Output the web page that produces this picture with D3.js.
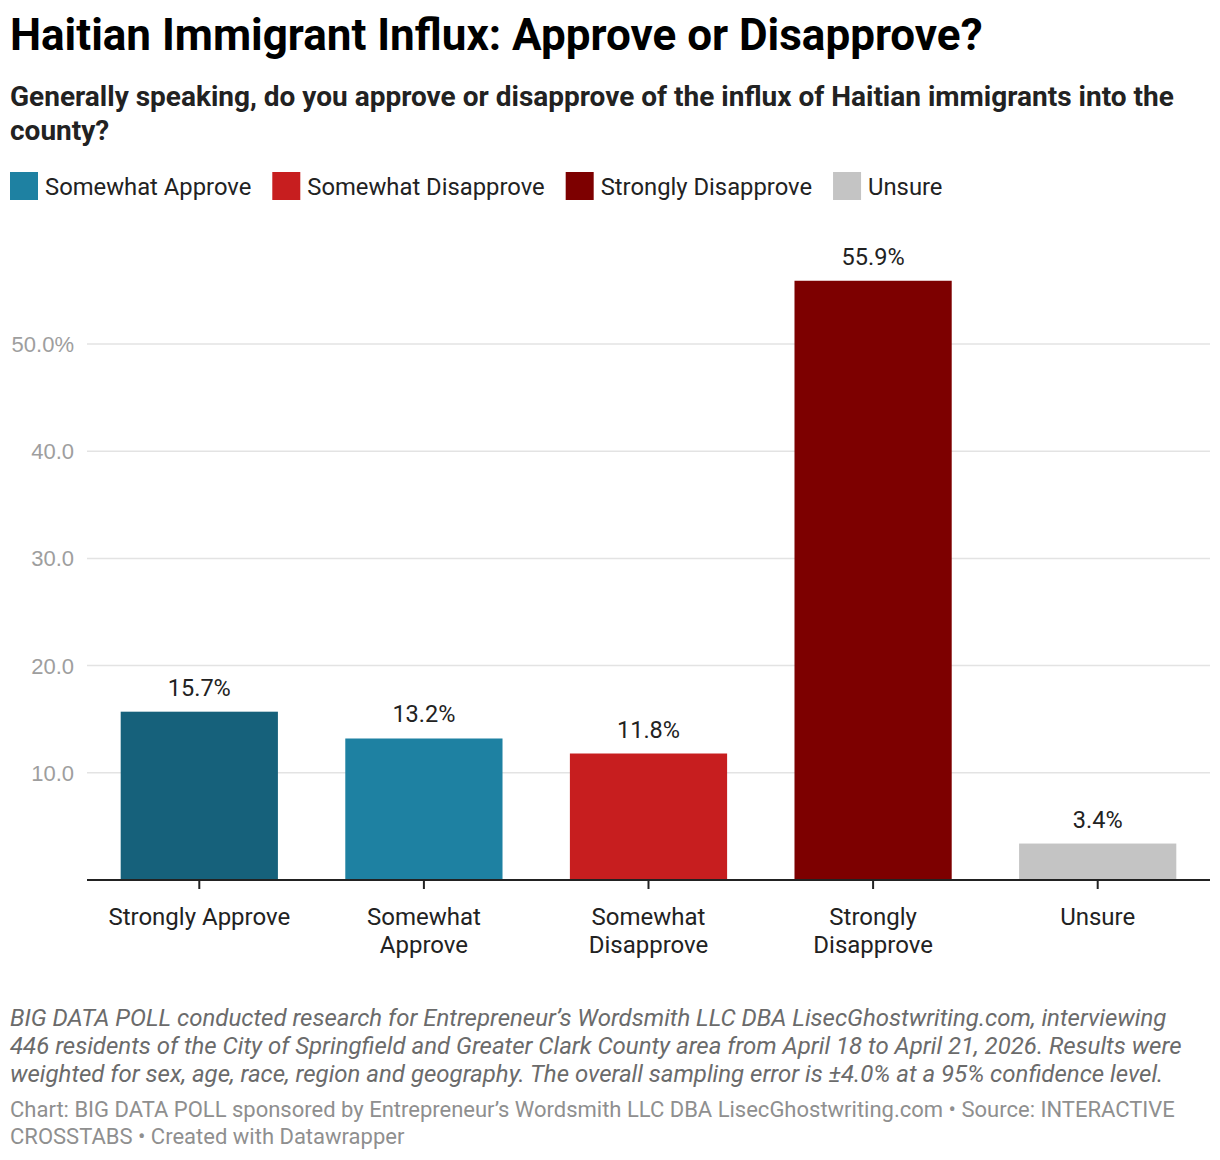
<!DOCTYPE html>
<html>
<head>
<meta charset="utf-8">
<script src="https://cdn.jsdelivr.net/npm/d3@7"></script>
<style>
body { margin:0; background:#fff; font-family:Roboto, sans-serif; }
</style>
</head>
<body>
<script>
var categories = ['Strongly Approve', 'Somewhat Approve', 'Somewhat Disapprove', 'Strongly Disapprove', 'Unsure'];
var values = [15.7, 13.2, 11.8, 55.9, 3.4];
var colors = ['#16617b', '#1e81a2', '#c71e1f', '#7d0000', '#c4c4c4'];
var legendItems = ['Somewhat Approve', 'Somewhat Disapprove', 'Strongly Disapprove', 'Unsure'];
var legendColors = ['#1e81a2', '#c71e1f', '#7d0000', '#c4c4c4'];
var yTicks = [10, 20, 30, 40, 50];
var xLabels = [['Strongly Approve'], ['Somewhat', 'Approve'], ['Somewhat', 'Disapprove'], ['Strongly', 'Disapprove'], ['Unsure']];

var W = 1220, H = 1160;
var svg = d3.select('body').append('svg').attr('width', W).attr('height', H);

// header
svg.append('text').attr('x', 10).attr('y', 50)
  .style('font-size', '44px').style('font-weight', 700).attr('fill', '#000')
  .text('Haitian Immigrant Influx: Approve or Disapprove?');
svg.append('text').attr('x', 10).attr('y', 106)
  .style('font-size', '28px').style('font-weight', 700).attr('fill', '#222')
  .text('Generally speaking, do you approve or disapprove of the influx of Haitian immigrants into the');
svg.append('text').attr('x', 10).attr('y', 140)
  .style('font-size', '28px').style('font-weight', 700).attr('fill', '#222')
  .text('county?');

// legend
var lg = svg.append('g');
var lx = 10;
legendItems.forEach(function(d, i) {
  lg.append('rect').attr('x', lx).attr('y', 172).attr('width', 28).attr('height', 28).attr('fill', legendColors[i]);
  var t = lg.append('text').attr('x', lx + 35).attr('y', 195)
    .style('font-size', '23.8px').attr('fill', '#222').text(d);
  lx += 35 + t.node().getComputedTextLength() + 21;
});

// chart
var x = d3.scaleBand().domain(categories).range([87, 1210]).paddingInner(0.3).paddingOuter(0.15);
var y = d3.scaleLinear().domain([0, 50]).range([880, 344]);

var grid = svg.append('g');
grid.selectAll('line').data(yTicks).enter().append('line')
  .attr('x1', 87).attr('x2', 1210)
  .attr('y1', function(d) { return y(d); }).attr('y2', function(d) { return y(d); })
  .attr('stroke', '#e3e3e3').attr('stroke-width', 1.5);
grid.selectAll('text').data(yTicks).enter().append('text')
  .attr('x', 74).attr('y', function(d) { return y(d) + 8; })
  .attr('text-anchor', 'end')
  .style('font-family', '"Liberation Sans", Arial, sans-serif').style('font-size', '22px')
  .attr('fill', '#9e9e9e')
  .text(function(d) { return d === 50 ? d.toFixed(1) + '%' : d.toFixed(1); });

svg.append('g').selectAll('rect').data(categories).enter().append('rect')
  .attr('x', function(d) { return x(d); })
  .attr('width', x.bandwidth())
  .attr('y', function(d, i) { return y(values[i]); })
  .attr('height', function(d, i) { return y(0) - y(values[i]); })
  .attr('fill', function(d, i) { return colors[i]; });

svg.append('g').selectAll('text').data(categories).enter().append('text')
  .attr('x', function(d) { return x(d) + x.bandwidth() / 2; })
  .attr('y', function(d, i) { return y(values[i]) - 16; })
  .attr('text-anchor', 'middle')
  .style('font-size', '23.5px').attr('fill', '#222')
  .text(function(d, i) { return values[i].toFixed(1) + '%'; });

// x axis
var xAxis = svg.append('g').attr('transform', 'translate(0,' + y(0) + ')')
  .call(d3.axisBottom(x).tickSize(9).tickFormat(''));
xAxis.select('.domain').attr('stroke', '#222').attr('stroke-width', 2).attr('d', 'M87,0H1210');
xAxis.selectAll('.tick line').attr('stroke', '#222').attr('stroke-width', 2);

var xl = svg.append('g');
categories.forEach(function(c, i) {
  xLabels[i].forEach(function(line, j) {
    xl.append('text').attr('x', x(c) + x.bandwidth() / 2).attr('y', 925 + j * 28)
      .attr('text-anchor', 'middle').style('font-size', '24px').attr('fill', '#222')
      .text(line);
  });
});

// footer
var notes = [
  'BIG DATA POLL conducted research for Entrepreneur\u2019s Wordsmith LLC DBA LisecGhostwriting.com, interviewing',
  '446 residents of the City of Springfield and Greater Clark County area from April 18 to April 21, 2026. Results were',
  'weighted for sex, age, race, region and geography. The overall sampling error is \u00b14.0% at a 95% confidence level.'
];
notes.forEach(function(n, i) {
  svg.append('text').attr('x', 10).attr('y', 1026 + i * 28)
    .style('font-size', '24px').style('font-style', 'italic').attr('fill', '#6b6b6b').text(n);
});
var credits = [
  'Chart: BIG DATA POLL sponsored by Entrepreneur\u2019s Wordsmith LLC DBA LisecGhostwriting.com \u2022 Source: INTERACTIVE',
  'CROSSTABS \u2022 Created with Datawrapper'
];
credits.forEach(function(n, i) {
  svg.append('text').attr('x', 10).attr('y', 1117 + i * 27)
    .style('font-size', '22px').attr('fill', '#8f8f8f').text(n);
});
</script>
</body>
</html>
